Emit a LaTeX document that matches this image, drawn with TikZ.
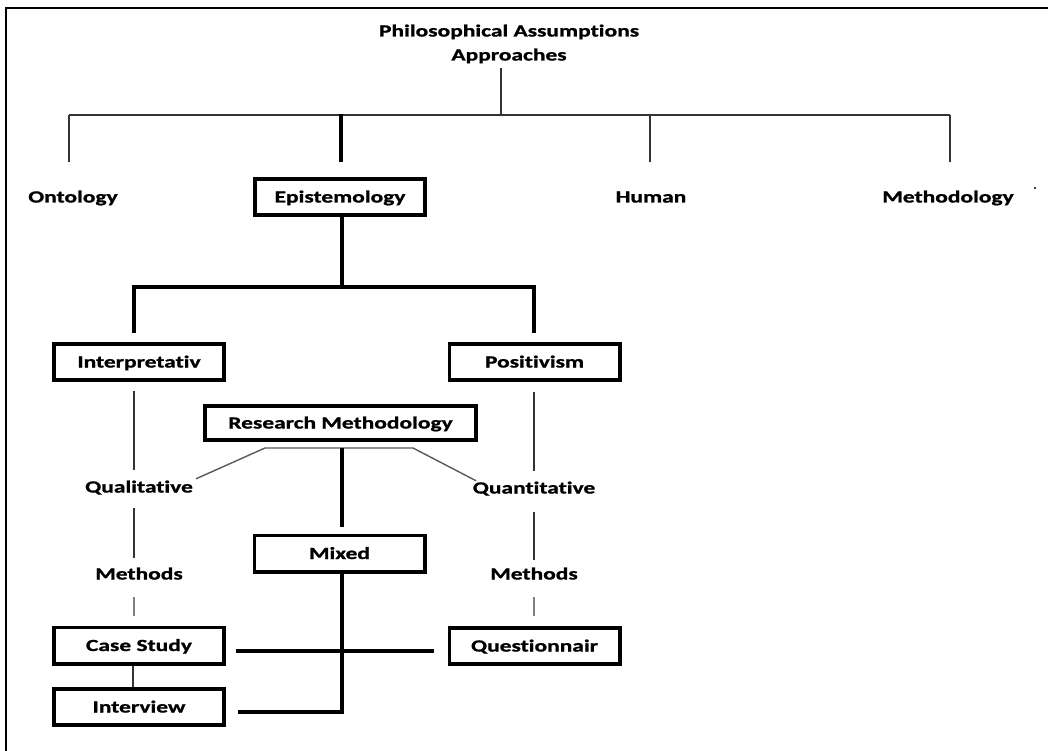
\documentclass[tikz,border=0pt]{standalone}
\usepackage{fontspec}
\setmainfont{Carlito}[FakeStretch=1.38, Ligatures=NoCommon, BoldFeatures={FakeBold=1.2}]
\begin{document}
\begin{tikzpicture}[x=1pt,y=-1pt,
  font=\bfseries\fontsize{17}{20}\selectfont,
  lbl/.style={inner sep=0pt, text height=11pt, text depth=0pt},
  box/.style={lbl, draw, line width=3.8pt, minimum width=170.2pt, minimum height=36.2pt},
  thinln/.style={line width=1.3pt, black!80},
  greyln/.style={line width=1.6pt, black!50},
  diagln/.style={line width=1.4pt, black!65},
  heavy/.style={line width=3.5pt, black},
  frameln/.style={line width=1.5pt, black}
]
\useasboundingbox (0,0) rectangle (1048,751);

% outer frame (only the top and left sides fall inside the page)
\draw[frameln] (6,751) -- (6,8) -- (1048,8);

% headings
\node[lbl] (title1) at (509,31) {Philosophical Assumptions};
\node[lbl] (title2) at (509,55) {Approaches};

% first level
\node[lbl] (onto)  at (73,197)  {Ontology};
\node[box] (epi)   at (340,197) {Epistemology};
\node[lbl] (human) at (651,197) {Human};
\node[lbl] (meth)  at (948,197) {Methodology};
\fill (1035,188) circle (1.1pt);

% second level
\node[box] (interp) at (139,362)   {Interpretativ};
\node[box] (posit)  at (534.5,362) {Positivism};
\node[box, minimum width=271.2pt, minimum height=34.2pt] (rm) at (340.5,423) {Research Methodology};

\node[lbl] (qual)  at (139,487) {Qualitative};
\node[lbl] (quant) at (534,488) {Quantitative};
\node[box] (mixed) at (339.5,553.5) {Mixed};

\node[lbl] (lmeth) at (139,574) {Methods};
\node[lbl] (rmeth) at (534,574) {Methods};

\node[box] (case)      at (139,645.5) {Case Study};
\node[box] (interview) at (139,707)   {Interview};
\node[box] (quest)     at (534.5,646) {Questionnair};

% junction points
\coordinate (hub) at (501,115);
\coordinate (bl)  at (69,115);
\coordinate (br)  at (950,115);
\coordinate (sl)  at (134,287);
\coordinate (sr)  at (534,287);
\coordinate (dl)  at (265,448);
\coordinate (dr)  at (413,448);
\coordinate (mtop) at (342,448);
\coordinate (mbot) at (342,712);
\coordinate (cross) at (342,651);

% top tree
\draw[thinln, shorten <=7.5pt] (title2.south -| hub) -- (hub);
\draw[thinln] (bl) -- (br);
\draw[thinln] (bl) -- ++(0,47);
\draw[thinln] (human.north |- hub) ++(-1,0) -- ++(0,47);
\draw[thinln] (br) -- ++(0,47);
\draw[heavy] (epi.north |- hub) ++(1,-0.6) -- ++(0,47.6);

% epistemology branches
\draw[heavy] (epi.south -| mtop) -- (mtop |- sl);
\draw[heavy, shorten <=9pt, shorten >=9pt] (interp.north -| sl) -- (sl) -- (sr) -- (posit.north -| sr);

% interpretative column
\draw[thinln, shorten <=8.75pt, shorten >=11.5pt] (interp.south -| sl) -- (qual.north -| sl);
\draw[thinln, shorten <=15.5pt, shorten >=10.5pt] (qual.south -| sl) -- (lmeth.north -| sl);
\draw[greyln, shorten <=17.5pt, shorten >=9.75pt] (lmeth.south -| sl) -- (case.north -| sl);
\draw[thinln] (case.south -| sl) ++(-1,0) -- ([xshift=-6pt]interview.north);

% positivist column
\draw[thinln, shorten <=9.75pt, shorten >=11.5pt] (posit.south -| sr) -- (quant.north -| sr);
\draw[thinln, shorten <=18.5pt, shorten >=8.5pt] (quant.south -| sr) -- (rmeth.north -| sr);
\draw[greyln, shorten <=17.5pt, shorten >=9.75pt] (rmeth.south -| sr) -- (quest.north -| sr);

% research methodology links
\draw[diagln] ([shift={(3,-2.5)}]qual.north east) -- (dl) -- (dr) -- ([shift={(3.5,-1.5)}]quant.north west);
\draw[heavy, shorten >=7pt] (mtop) -- (mtop |- mixed.north);

% mixed methods links
\draw[heavy, shorten >=11.75pt] (mixed.south -| mbot) -- (mbot) -- (interview.east |- mbot);
\draw[heavy, shorten <=9.75pt, shorten >=13.75pt] (case.east |- cross) -- (quest.west |- cross);
\end{tikzpicture}
\end{document}
